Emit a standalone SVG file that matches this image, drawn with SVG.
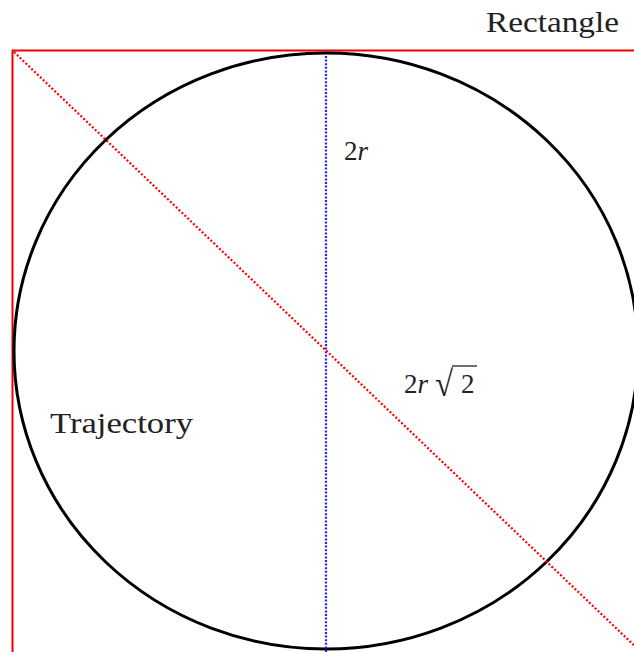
<svg xmlns="http://www.w3.org/2000/svg" width="634" height="652" viewBox="0 0 634 652">
<style>
.lbl{font-family:"Liberation Serif","Times New Roman",serif;fill:#222;}
.it{font-style:italic;}
.dotred{stroke:#f00;stroke-width:2.2;stroke-dasharray:2 2;fill:none;}
.dotblue{stroke:#22f;stroke-width:2.2;stroke-dasharray:2 1.6;fill:none;}
</style>
<rect width="634" height="652" fill="#fff"/>
<g id="rectangle">
<rect x="12.5" y="50.5" width="628" height="620" fill="none" stroke="#e00" stroke-width="2"/>
<text class="lbl" x="486" y="32" font-size="30" textLength="133" lengthAdjust="spacingAndGlyphs">Rectangle</text>
</g>
<g id="trajectory">
<ellipse cx="326" cy="351" rx="312" ry="298" fill="none" stroke="#000" stroke-width="3"/>
<text class="lbl" x="50" y="433" font-size="30" textLength="143" lengthAdjust="spacingAndGlyphs">Trajectory</text>
</g>
<g id="connectors">
<line class="dotblue" x1="326" y1="56" x2="326" y2="652"/>
<line class="dotred" x1="14" y1="52" x2="640" y2="651"/>
</g>
<g id="labels">
<text class="lbl" x="344" y="160" font-size="27">2<tspan class="it">r</tspan></text>
<text class="lbl" x="404" y="393" font-size="27">2<tspan class="it">r</tspan></text>
<text class="lbl" x="435" y="396" font-size="36" textLength="18" lengthAdjust="spacingAndGlyphs">√</text>
<text class="lbl" x="461" y="393" font-size="27">2</text>
<line x1="452" y1="366" x2="477" y2="366" stroke="#222" stroke-width="1.3"/>
</g>
</svg>
